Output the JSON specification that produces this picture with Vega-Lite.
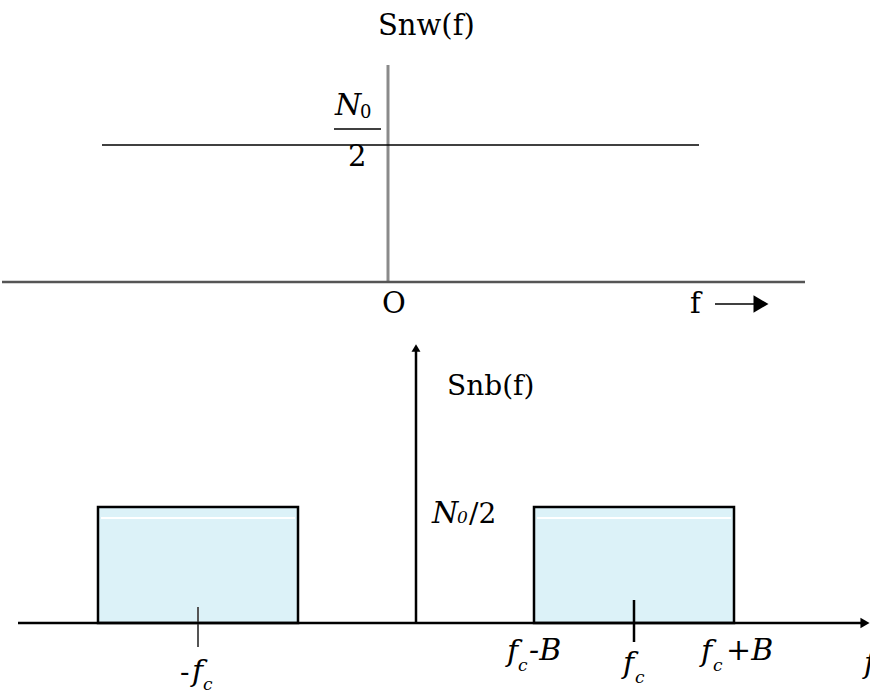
{
  "$schema": "https://vega.github.io/schema/vega-lite/v6.json",
  "background": "white",
  "padding": 0,
  "spacing": 0,
  "bounds": "flush",
  "config": {
    "view": {"stroke": null}
  },
  "datasets": {
    "wLines": [
      {"x": -2.86, "x2": 3.11, "y": 1.37, "y2": 1.37},
      {"x": -0.54, "x2": -0.07, "y": 1.53, "y2": 1.53},
      {"x": 3.27, "x2": 3.66, "y": -0.22, "y2": -0.22}
    ],
    "wAxisV": [{"x": 0, "x2": 0, "y": 0, "y2": 2.17}],
    "wAxisH": [{"x": -3.86, "x2": 4.17, "y": 0, "y2": 0}],
    "wArrow": [{"x": 3.73, "y": -0.22}],
    "wText": [
      {"x": -0.1, "y": 2.47, "t": "Snw(f)"},
      {"x": -0.4, "y": 1.16, "t": "2"},
      {"x": -0.06, "y": -0.31, "t": "O"},
      {"x": 3.02, "y": -0.31, "t": "f"}
    ],
    "wItalic": [{"x": -0.53, "y": 1.67, "t": "N"}],
    "wSub": [{"x": -0.28, "y": 1.64, "t": "0"}],
    "bands": [
      {"x": -3.18, "x2": -1.18, "y": 0, "y2": 1.16},
      {"x": 1.18, "x2": 3.18, "y": 0, "y2": 1.16}
    ],
    "bandShine": [
      {"x": -3.15, "x2": -1.21, "y": 1.05, "y2": 1.05},
      {"x": 1.21, "x2": 3.15, "y": 1.05, "y2": 1.05}
    ],
    "bLines": [
      {"x": -3.98, "x2": 4.46, "y": 0, "y2": 0},
      {"x": 0, "x2": 0, "y": 0, "y2": 2.72},
      {"x": 2.18, "x2": 2.18, "y": 0.23, "y2": -0.19}
    ],
    "bTickGray": [{"x": -2.18, "x2": -2.18, "y": 0.16, "y2": -0.24}],
    "bArrowRight": [{"x": 4.49, "y": 0}],
    "bArrowUp": [{"x": 0, "y": 2.75}],
    "bText": [
      {"x": 0.31, "y": 2.28, "t": "Snb(f)"},
      {"x": 0.53, "y": 1.0, "t": "/2"},
      {"x": -2.36, "y": -0.58, "t": "-"}
    ],
    "bItalic": [
      {"x": 0.16, "y": 1.0, "t": "N"},
      {"x": -2.24, "y": -0.58, "t": "f"},
      {"x": 0.91, "y": -0.38, "t": "f"},
      {"x": 1.13, "y": -0.37, "t": "-B"},
      {"x": 2.07, "y": -0.5, "t": "f"},
      {"x": 2.85, "y": -0.38, "t": "f"},
      {"x": 3.1, "y": -0.37, "t": "+B"}
    ],
    "bSub": [
      {"x": 0.41, "y": 1.0, "t": "0"},
      {"x": -2.13, "y": -0.67, "t": "c"},
      {"x": 1.02, "y": -0.48, "t": "c"},
      {"x": 2.19, "y": -0.6, "t": "c"},
      {"x": 2.97, "y": -0.48, "t": "c"}
    ],
    "bEdge": [{"x": 4.48, "y": -0.5, "t": "f"}]
  },
  "vconcat": [
    {
      "width": 870,
      "height": 320,
      "encoding": {
        "x": {"field": "x", "type": "quantitative", "axis": null, "scale": {"domain": [-3.86, 4.84], "nice": false, "zero": false}},
        "y": {"field": "y", "type": "quantitative", "axis": null, "scale": {"domain": [-0.38, 2.82], "nice": false, "zero": false}}
      },
      "layer": [
        {"data": {"name": "wAxisV"}, "mark": {"type": "rule", "color": "#8a8a8a", "strokeWidth": 3}, "encoding": {"x2": {"field": "x2"}, "y2": {"field": "y2"}}},
        {"data": {"name": "wAxisH"}, "mark": {"type": "rule", "color": "#555555", "strokeWidth": 2.5}, "encoding": {"x2": {"field": "x2"}, "y2": {"field": "y2"}}},
        {"data": {"name": "wLines"}, "mark": {"type": "rule", "color": "black", "strokeWidth": 1.6}, "encoding": {"x2": {"field": "x2"}, "y2": {"field": "y2"}}},
        {"data": {"name": "wArrow"}, "mark": {"type": "point", "shape": "triangle-right", "filled": true, "color": "black", "size": 300, "opacity": 1}},
        {"data": {"name": "wText"}, "mark": {"type": "text", "font": "DejaVu Serif", "align": "left", "baseline": "alphabetic", "color": "black", "fontSize": 29}, "encoding": {"text": {"field": "t"}}},
        {"data": {"name": "wItalic"}, "mark": {"type": "text", "font": "DejaVu Serif", "align": "left", "baseline": "alphabetic", "color": "black", "fontSize": 30, "fontStyle": "italic"}, "encoding": {"text": {"field": "t"}}},
        {"data": {"name": "wSub"}, "mark": {"type": "text", "font": "DejaVu Serif", "align": "left", "baseline": "alphabetic", "color": "black", "fontSize": 18}, "encoding": {"text": {"field": "t"}}}
      ]
    },
    {
      "width": 870,
      "height": 376,
      "encoding": {
        "x": {"field": "x", "type": "quantitative", "axis": null, "scale": {"domain": [-4.14, 4.56], "nice": false, "zero": false}},
        "y": {"field": "y", "type": "quantitative", "axis": null, "scale": {"domain": [-0.73, 3.03], "nice": false, "zero": false}}
      },
      "layer": [
        {"data": {"name": "bands"}, "mark": {"type": "rect", "fill": "#dcf2f8", "stroke": "black", "strokeWidth": 2.5}, "encoding": {"x2": {"field": "x2"}, "y2": {"field": "y2"}}},
        {"data": {"name": "bandShine"}, "mark": {"type": "rule", "color": "white", "strokeWidth": 2}, "encoding": {"x2": {"field": "x2"}, "y2": {"field": "y2"}}},
        {"data": {"name": "bTickGray"}, "mark": {"type": "rule", "color": "#555555", "strokeWidth": 2}, "encoding": {"x2": {"field": "x2"}, "y2": {"field": "y2"}}},
        {"data": {"name": "bLines"}, "mark": {"type": "rule", "color": "black", "strokeWidth": 2.5}, "encoding": {"x2": {"field": "x2"}, "y2": {"field": "y2"}}},
        {"data": {"name": "bArrowRight"}, "mark": {"type": "point", "shape": "triangle-right", "filled": true, "color": "black", "size": 110, "opacity": 1}},
        {"data": {"name": "bArrowUp"}, "mark": {"type": "point", "shape": "triangle-up", "filled": true, "color": "black", "size": 80, "opacity": 1}},
        {"data": {"name": "bText"}, "mark": {"type": "text", "font": "DejaVu Serif", "align": "left", "baseline": "alphabetic", "color": "black", "fontSize": 28}, "encoding": {"text": {"field": "t"}}},
        {"data": {"name": "bItalic"}, "mark": {"type": "text", "font": "DejaVu Serif", "align": "left", "baseline": "alphabetic", "color": "black", "fontSize": 30, "fontStyle": "italic"}, "encoding": {"text": {"field": "t"}}},
        {"data": {"name": "bSub"}, "mark": {"type": "text", "font": "DejaVu Serif", "align": "left", "baseline": "alphabetic", "color": "black", "fontSize": 17, "fontStyle": "italic"}, "encoding": {"text": {"field": "t"}}},
        {"data": {"name": "bEdge"}, "mark": {"type": "text", "font": "DejaVu Serif", "align": "left", "baseline": "alphabetic", "color": "black", "fontSize": 30, "fontStyle": "italic", "clip": true}, "encoding": {"text": {"field": "t"}}}
      ]
    }
  ]
}
